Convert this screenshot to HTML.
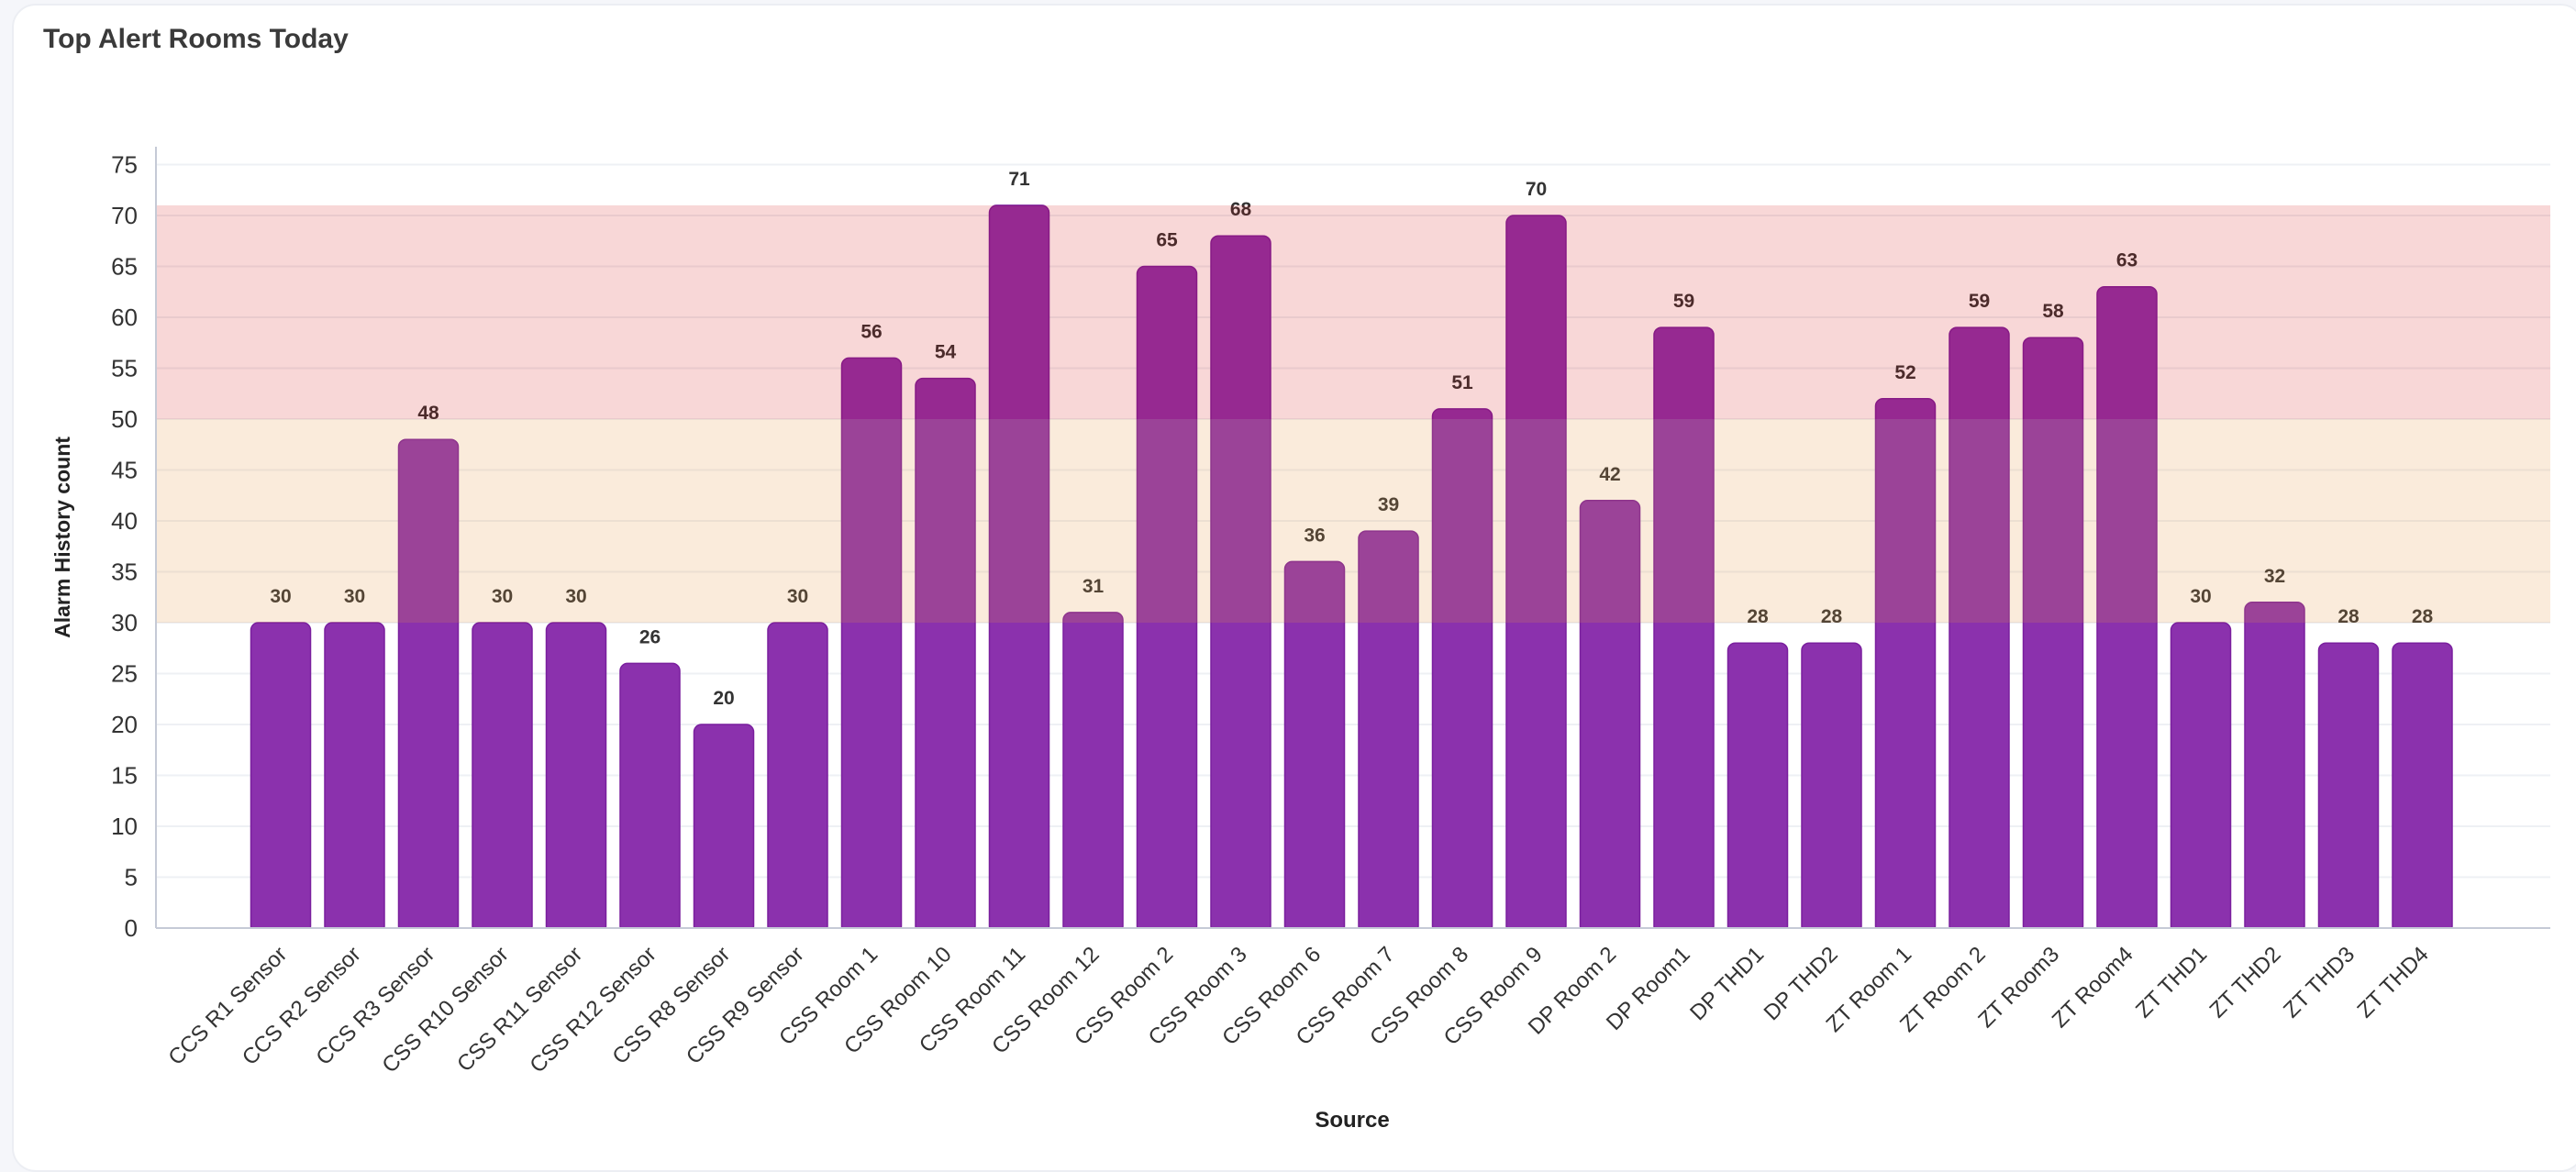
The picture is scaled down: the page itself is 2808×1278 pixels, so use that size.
<!DOCTYPE html>
<html><head><meta charset="utf-8">
<style>
html,body{margin:0;padding:0;background:#f5f6fa;width:2808px;height:1266px;overflow:hidden}
.card{position:absolute;left:13px;top:4px;width:2800px;height:1270px;background:#fff;border:2px solid #eceef3;border-radius:26px}
svg{position:absolute;left:0;top:0}
text{font-family:"Liberation Sans",sans-serif}
</style></head><body>
<div class="card"></div>
<svg id="s" width="2808" height="1266" xmlns="http://www.w3.org/2000/svg">
<text x="47" y="52" font-size="30" font-weight="bold" fill="#3a3a3a">Top Alert Rooms Today</text>
<g id="g"></g>
</svg>
<script>
const vals=[30,30,48,30,30,26,20,30,56,54,71,31,65,68,36,39,51,70,42,59,28,28,52,59,58,63,30,32,28,28];
const labs=["CCS R1 Sensor","CCS R2 Sensor","CCS R3 Sensor","CSS R10 Sensor","CSS R11 Sensor","CSS R12 Sensor","CSS R8 Sensor","CSS R9 Sensor","CSS Room 1","CSS Room 10","CSS Room 11","CSS Room 12","CSS Room 2","CSS Room 3","CSS Room 6","CSS Room 7","CSS Room 8","CSS Room 9","DP Room 2","DP Room1","DP THD1","DP THD2","ZT Room 1","ZT Room 2","ZT Room3","ZT Room4","ZT THD1","ZT THD2","ZT THD3","ZT THD4"];
const X0=170,X1=2780,Y0=1012,k=11.1;
const y=v=>Y0-v*k;
let h='';
for(let v=0;v<=75;v+=5){
 h+=`<line x1="${X0}" x2="${X1}" y1="${y(v)}" y2="${y(v)}" stroke="#eef0f4" stroke-width="2"/>`;
 h+=`<text x="150" y="${y(v)+9}" font-size="26" fill="#333" text-anchor="end">${v}</text>`;
}
vals.forEach((v,i)=>{
 const cx=306+i*80.5,w=65;
 h+=`<rect x="${cx-w/2}" y="${y(v)}" width="${w}" height="${v*k+6}" rx="8" fill="#8b31ad" stroke="#7a1f9e" stroke-width="1.5"/>`;
 h+=`<text x="${cx}" y="${y(v)-22}" font-size="21" font-weight="bold" fill="#333" text-anchor="middle">${v}</text>`;
 h+=`<text transform="translate(${cx+8},${Y0+30}) rotate(-45)" font-size="24" fill="#333" text-anchor="end">${labs[i]}</text>`;
});
h+=`<rect x="${X0}" y="${Y0}" width="${X1-X0}" height="8" fill="#fff"/>`;
h+=`<rect x="${X0}" y="${y(50)}" width="${X1-X0}" height="${20*k}" fill="rgba(228,150,65,0.19)"/>`;
h+=`<rect x="${X0}" y="${y(71)}" width="${X1-X0}" height="${21*k}" fill="rgba(210,0,0,0.155)"/>`;
h+=`<line x1="${X0}" x2="${X1}" y1="${Y0}" y2="${Y0}" stroke="#c5cad6" stroke-width="2"/>`;
h+=`<line x1="${X0}" x2="${X0}" y1="160" y2="${Y0}" stroke="#c5cad6" stroke-width="2"/>`;
h+=`<text transform="translate(76,586) rotate(-90)" font-size="23" font-weight="bold" fill="#222" text-anchor="middle">Alarm History count</text>`;
h+=`<text x="1474" y="1229" font-size="24" font-weight="bold" fill="#222" text-anchor="middle">Source</text>`;
document.getElementById('g').innerHTML=h;
</script>
</body></html>
